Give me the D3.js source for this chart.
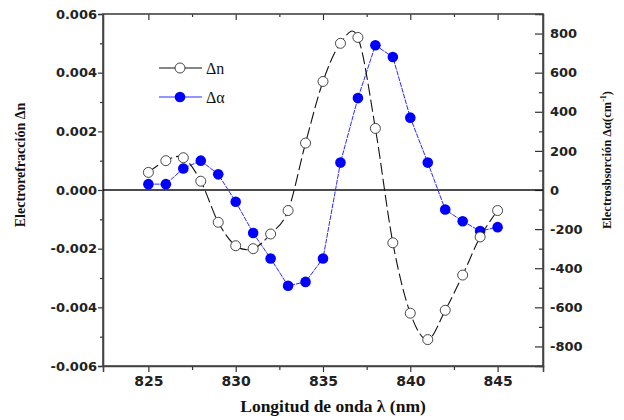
<html>
<head>
<meta charset="utf-8" />
<script src="https://d3js.org/d3.v7.min.js"></script>
<style>
  body { margin: 0; background: #fff; }
  .tick text { font-family: "DejaVu Sans"; font-weight: bold; fill: #222; }
  .title { font-family: "Liberation Serif"; font-weight: bold; fill: #111; }
</style>
</head>
<body>
<svg id="chart" width="624" height="420"></svg>
<script>
// wavelength (nm)
var lambda = [825, 826, 827, 828, 829, 830, 831, 832, 833, 834, 835,
              836, 837, 838, 839, 840, 841, 842, 843, 844, 845];
// electrorefraction Δn (left axis)
var dn = [0.0006, 0.0010, 0.0011, 0.0003, -0.0011, -0.0019, -0.0020, -0.0015, -0.0007, 0.0016, 0.0037,
          0.0050, 0.0052, 0.0021, -0.0018, -0.0042, -0.0051, -0.0041, -0.0029, -0.0016, -0.0007];
// electroabsorption Δα in cm^-1 (right axis)
var da = [30, 30, 110, 150, 80, -60, -220, -350, -490, -470, -350,
          140, 470, 740, 680, 370, 140, -100, -160, -210, -190];

var xTicks = [825, 830, 835, 840, 845];
var xMinor = [827.5, 832.5, 837.5, 842.5];
var leftTicks = [-0.006, -0.004, -0.002, 0, 0.002, 0.004, 0.006];
var leftMinor = [-0.005, -0.003, -0.001, 0.001, 0.003, 0.005];
var rightTicks = [-800, -600, -400, -200, 0, 200, 400, 600, 800];
var rightMinor = [-900, -700, -500, -300, -100, 100, 300, 500, 700, 900];

var svg = d3.select("#chart"),
  margin = { top: 14, right: 81, bottom: 54, left: 103 },
  width = +svg.attr("width") - margin.left - margin.right,
  height = +svg.attr("height") - margin.top - margin.bottom;

var g = svg.append("g").attr("transform", "translate(" + margin.left + "," + margin.top + ")");

var x = d3.scaleLinear().domain([822.4, 847.6]).range([0, width]);
var yL = d3.scaleLinear().domain([-0.006, 0.006]).range([height, 0]);
var yR = d3.scaleLinear().domain([-900, 900]).range([height, 0]);

var fmtL = (d) => d3.format(".3f")(d).replace("\u2212", "-");
var fmtR = (d) => d3.format("d")(d).replace("\u2212", "-");

// bottom axis
var xb = g.append("g").attr("transform", "translate(0," + height + ")")
  .call(d3.axisBottom(x).tickValues(xTicks).tickSize(6).tickPadding(4).tickFormat(d3.format("d")));
xb.selectAll("text").style("font-size", "14px");
g.append("g").attr("transform", "translate(0," + height + ")")
  .call(d3.axisBottom(x).tickValues(xMinor).tickSize(4).tickFormat(""))
  .select(".domain").remove();

// top ticks (inward)
g.append("g").call(d3.axisTop(x).tickValues(xTicks).tickSize(-6).tickFormat(""))
  .select(".domain").remove();
g.append("g").call(d3.axisTop(x).tickValues(xMinor).tickSize(-3).tickFormat(""))
  .select(".domain").remove();

// left axis
var yl = g.append("g").call(d3.axisLeft(yL).tickValues(leftTicks).tickSize(5).tickPadding(1).tickFormat(fmtL));
yl.selectAll("text").style("font-size", "13px");
g.append("g").call(d3.axisLeft(yL).tickValues(leftMinor).tickSize(3).tickFormat(""))
  .select(".domain").remove();

// right axis (inward ticks)
var yr = g.append("g").attr("transform", "translate(" + width + ",0)")
  .call(d3.axisRight(yR).tickValues(rightTicks).tickSize(-8).tickPadding(7).tickFormat(fmtR));
yr.selectAll("text").style("font-size", "13px");
g.append("g").attr("transform", "translate(" + width + ",0)")
  .call(d3.axisRight(yR).tickValues(rightMinor).tickSize(-4).tickFormat(""))
  .select(".domain").remove();

g.selectAll(".tick line").attr("stroke", "#333").attr("stroke-width", 1.2);
g.selectAll(".domain").attr("stroke", "#444").attr("stroke-width", 1.6);

// frame
g.append("rect").attr("width", width).attr("height", height)
  .attr("fill", "none").attr("stroke", "#444").attr("stroke-width", 1.6);

// zero line
g.append("line").attr("x1", 0).attr("x2", width)
  .attr("y1", yL(0)).attr("y2", yL(0))
  .attr("stroke", "#111").attr("stroke-width", 1.5);

// Δα line + dots
g.append("path").datum(lambda)
  .attr("fill", "none").attr("stroke", "#2a2aff").attr("stroke-width", 1)
  .attr("stroke-dasharray", "5,1")
  .attr("d", d3.line().x((d) => x(d)).y((d, i) => yR(da[i])));
g.selectAll(".da").data(lambda).enter().append("circle")
  .attr("class", "da")
  .attr("cx", (d) => x(d)).attr("cy", (d, i) => yR(da[i]))
  .attr("r", 5.3).attr("fill", "#0000ff");

// Δn line + open circles
g.append("path").datum(lambda)
  .attr("fill", "none").attr("stroke", "#111").attr("stroke-width", 1.1)
  .attr("stroke-dasharray", "12,4")
  .attr("d", d3.line().curve(d3.curveCardinal.tension(0)).x((d) => x(d)).y((d, i) => yL(dn[i])));
g.selectAll(".dn").data(lambda).enter().append("circle")
  .attr("class", "dn")
  .attr("cx", (d) => x(d)).attr("cy", (d, i) => yL(dn[i]))
  .attr("r", 5).attr("fill", "#fff").attr("stroke", "#333").attr("stroke-width", 0.9);

// legend
var leg = svg.append("g");
leg.append("line").attr("x1", 159).attr("x2", 202).attr("y1", 68).attr("y2", 68)
  .attr("stroke", "#111").attr("stroke-width", 1.1);
leg.append("circle").attr("cx", 180).attr("cy", 68).attr("r", 5)
  .attr("fill", "#fff").attr("stroke", "#333").attr("stroke-width", 0.9);
leg.append("text").attr("class", "title").attr("x", 206).attr("y", 74)
  .style("font-size", "16px").style("font-weight", "normal").text("\u0394n");
leg.append("line").attr("x1", 159).attr("x2", 202).attr("y1", 97).attr("y2", 97)
  .attr("stroke", "#2a2aff").attr("stroke-width", 1);
leg.append("circle").attr("cx", 180).attr("cy", 97).attr("r", 5.3).attr("fill", "#0000ff");
leg.append("text").attr("class", "title").attr("x", 206).attr("y", 103)
  .style("font-size", "16px").style("font-weight", "normal").text("\u0394\u03b1");

// axis titles
svg.append("text").attr("class", "title")
  .attr("x", 333).attr("y", 412).attr("text-anchor", "middle")
  .style("font-size", "17.5px").text("Longitud de onda \u03bb (nm)");

svg.append("text").attr("class", "title")
  .attr("transform", "translate(25,165) rotate(-90)").attr("text-anchor", "middle")
  .style("font-size", "14px").text("Electrorefracci\u00f3n \u0394n");

var rt = svg.append("text").attr("class", "title")
  .attr("transform", "translate(611,160) rotate(-90)").attr("text-anchor", "middle")
  .style("font-size", "12.5px");
rt.append("tspan").text("Electrosbsorci\u00f3n \u0394\u03b1(cm");
rt.append("tspan").attr("dy", -5).style("font-size", "8px").text("-1");
rt.append("tspan").attr("dy", 5).text(")");
</script>
</body>
</html>
